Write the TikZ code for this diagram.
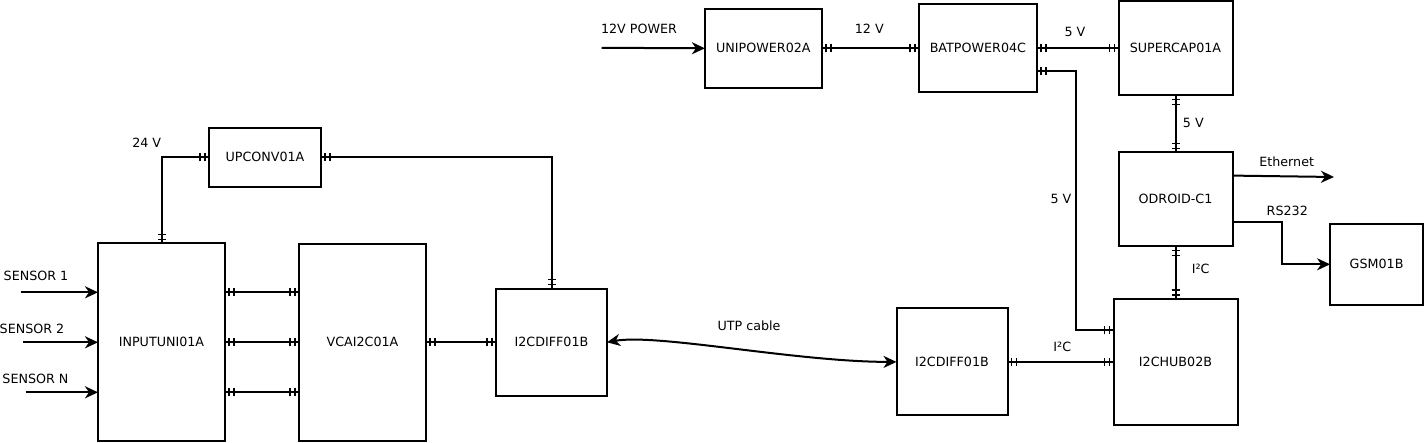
\documentclass[tikz,border=0pt]{standalone}
\usepackage{fontspec}
\setmainfont{DejaVu Sans}
\usetikzlibrary{arrows.meta,positioning,decorations.markings}
\tikzset{
  unit/.style={draw, line width=2pt, outer sep=0pt, align=center, font=\fontsize{12.7}{15}\selectfont},
  lbl/.style={anchor=base, inner sep=0pt, font=\fontsize{12.7}{15}\selectfont},
  flow/.style={->, line width=2pt},
  tickline/.style={line width=1.4pt},
  link/.style={line width=2pt, postaction={decorate, decoration={markings,
    mark=at position 4pt with {\draw[tickline] (0,-4pt) -- (0,4pt);},
    mark=at position 9pt with {\draw[tickline] (0,-4pt) -- (0,4pt);},
    mark=at position -4pt with {\draw[tickline] (0,-4pt) -- (0,4pt);},
    mark=at position -9pt with {\draw[tickline] (0,-4pt) -- (0,4pt);}}}}
}

\begin{document}
\begin{tikzpicture}[x=1pt, y=1pt, >={Stealth[length=13pt, width=12pt, inset=4pt]}]
\useasboundingbox (0,0) rectangle (1428,-443);
% sensor side
\node[unit, minimum width=127pt, minimum height=198pt] (inputuni) at (161.5,-342.3) {INPUTUNI01A};
\node[unit, minimum width=127pt, minimum height=197pt, right=74pt of inputuni] (vcai) {VCAI2C01A};
\node[unit, minimum width=111pt, minimum height=107pt, right=70pt of vcai] (diffl) {I2CDIFF01B};
\node[unit, minimum width=112pt, minimum height=59pt, above=56.6pt of inputuni, xshift=103.5pt] (upconv) {UPCONV01A};
% hub side
\node[unit, minimum width=111pt, minimum height=107pt, right=289.5pt of diffl, yshift=-19.6pt] (diffr) {I2CDIFF01B};
\node[unit, minimum width=124pt, minimum height=126pt, right=106pt of diffr] (hub) {I2CHUB02B};
\node[unit, minimum width=114pt, minimum height=94pt, above=52.6pt of hub] (odroid) {ODROID-C1};
\node[unit, minimum width=114pt, minimum height=94pt, above=57pt of odroid] (supercap) {SUPERCAP01A};
\node[unit, minimum width=118pt, minimum height=88pt, left=81.6pt of supercap] (batpower) {BATPOWER04C};
\node[unit, minimum width=117pt, minimum height=79pt, left=97pt of batpower] (unipower) {UNIPOWER02A};
\node[unit, minimum width=93pt, minimum height=81pt, right=97.6pt of odroid, yshift=-65pt] (gsm) {GSM01B};

\coordinate (sen1) at (20.7,-292.3);
\coordinate (sen2) at (23.3,-342.3);
\coordinate (senN) at (25.7,-392.3);
\coordinate (pwrin) at (601.7,-47.8);
\coordinate (eth) at (1334,-177);

\draw[flow] (sen1) -- (sen1 -| inputuni.west);
\draw[flow] (sen2) -- (sen2 -| inputuni.west);
\draw[flow] (senN) -- (senN -| inputuni.west);
\draw[link] ([yshift=50pt]inputuni.east) -- ([yshift=50pt]vcai.west);
\draw[link] (inputuni.east) -- (vcai.west);
\draw[link] ([yshift=-50pt]inputuni.east) -- ([yshift=-50pt]vcai.west);
\draw[link] (vcai.east) -- (diffl.west);
\draw[link] (inputuni.north) |- (upconv.west);
\draw[link] (upconv.east) -| (diffl.north);
\draw[<->, line width=2pt] (diffl.east) .. controls +(50,9) and +(-100,0) .. (diffr.west);
\draw[flow] (pwrin) -- (unipower.west);
\draw[link] (unipower.east) -- (batpower.west);
\draw[link] (batpower.east) -- (supercap.west);
\draw[link] ([yshift=-22.3pt]batpower.east) -- ++(38.6,0) |- ([yshift=31.5pt]hub.west);
\draw[link] (supercap.south) -- (odroid.north);
\draw[link] (odroid.south) -- (hub.north);
\draw[link] (diffr.east) -- (hub.west);
\draw[flow] ([yshift=23.7pt]odroid.east) -- (eth);
\draw[flow] ([yshift=-22.5pt]odroid.east) -- ++(49,0) |- (gsm.west);

% labels
\node[lbl] (lsen1) at (36,-280.3) {SENSOR 1};
\node[lbl] (lsen2) at (32,-333.6) {SENSOR 2};
\node[lbl] (lsenN) at (35.5,-383.6) {SENSOR N};
\node[lbl] (l24v) at (146.7,-147.3) {24 V};
\node[lbl] (lpwr) at (639,-33.6) {12V POWER};
\node[lbl] (l12v) at (869.3,-33.6) {12 V};
\node[lbl] (l5va) at (1075,-36.3) {5 V};
\node[lbl] (l5vb) at (1193.3,-127.9) {5 V};
\node[lbl] (l5vc) at (1061,-203.3) {5 V};
\node[lbl] (leth) at (1286.7,-166.5) {Ethernet};
\node[lbl] (lrs) at (1287.3,-215.3) {RS232};
\node[lbl] (li2ca) at (1200.7,-273.9) {I²C};
\node[lbl] (li2cb) at (1062.3,-351.3) {I²C};
\node[lbl] (lutp) at (749,-330.5) {UTP cable};
\end{tikzpicture}
\end{document}
